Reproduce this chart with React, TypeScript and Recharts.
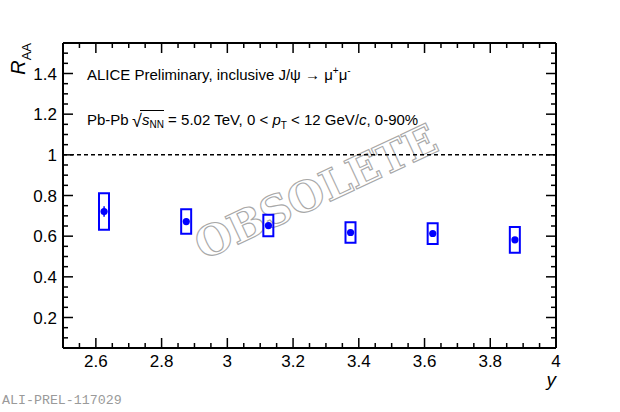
import React from 'react';
import { ComposedChart, Scatter, Bar, XAxis, YAxis, ErrorBar, ReferenceLine } from 'recharts';

// ---- data ----
const rapidity = [2.625, 2.875, 3.125, 3.375, 3.625, 3.875];
const raaValues = [0.721, 0.672, 0.652, 0.618, 0.613, 0.582];
const statErrors = [0.026, 0.014, 0.014, 0.012, 0.012, 0.013];
const sysErrors = [0.09, 0.06, 0.053, 0.05, 0.051, 0.063];

const xMajorTicks = [2.6, 2.8, 3, 3.2, 3.4, 3.6, 3.8, 4];
const xTickLabels = ['2.6', '2.8', '3', '3.2', '3.4', '3.6', '3.8', '4'];
const yMajorTicks = [0.2, 0.4, 0.6, 0.8, 1, 1.2, 1.4];
const yTickLabels = ['0.2', '0.4', '0.6', '0.8', '1', '1.2', '1.4'];
const xDomain = [2.5, 4];
const yDomain = [0.05, 1.55];
const minorStep = 0.05;

const buildMinor = (lo: number, hi: number) => {
  const out: number[] = [];
  const n = Math.round((hi - lo) / minorStep);
  for (let i = 0; i <= n; i++) out.push(Math.round((lo + i * minorStep) * 1000) / 1000);
  return out;
};
const xAllTicks = buildMinor(xDomain[0], xDomain[1]);
const yAllTicks = buildMinor(yDomain[0], yDomain[1]);

const rows = rapidity.map((x, i) => ({
  x,
  y: raaValues[i],
  stat: statErrors[i],
  sys: [raaValues[i] - sysErrors[i], raaValues[i] + sysErrors[i]],
}));

const FONT = '"Liberation Sans", Arial, Helvetica, sans-serif';
const MONO = '"Liberation Mono", "Courier New", monospace';
const BLUE = '#0000ff';
const MAJOR = 10;
const MINOR = 5;

const majorIndex = (v: number, majors: number[]) => majors.findIndex((m) => Math.abs(m - v) < 1e-6);

const XTickBottom = (props: any) => {
  const { x, y, payload } = props;
  const idx = majorIndex(payload.value, xMajorTicks);
  const len = idx >= 0 ? MAJOR : MINOR;
  return (
    <g>
      <line x1={x} x2={x} y1={y} y2={y - len} stroke="#000" strokeWidth={1.5} />
      {idx >= 0 && (
        <text x={x} y={y + 19} textAnchor="middle" fontSize={17} fontFamily={FONT} fill="#000">
          {xTickLabels[idx]}
        </text>
      )}
    </g>
  );
};

const XTickTop = (props: any) => {
  const { x, y, payload } = props;
  const idx = majorIndex(payload.value, xMajorTicks);
  const len = idx >= 0 ? MAJOR : MINOR;
  return <line x1={x} x2={x} y1={y} y2={y + len} stroke="#000" strokeWidth={1.5} />;
};

const YTickLeft = (props: any) => {
  const { x, y, payload } = props;
  const idx = majorIndex(payload.value, yMajorTicks);
  const len = idx >= 0 ? MAJOR : MINOR;
  return (
    <g>
      <line x1={x} x2={x + len} y1={y} y2={y} stroke="#000" strokeWidth={1.5} />
      {idx >= 0 && (
        <text x={x - 6} y={y + 6} textAnchor="end" fontSize={17} fontFamily={FONT} fill="#000">
          {yTickLabels[idx]}
        </text>
      )}
    </g>
  );
};

const YTickRight = (props: any) => {
  const { x, y, payload } = props;
  const idx = majorIndex(payload.value, yMajorTicks);
  const len = idx >= 0 ? MAJOR : MINOR;
  return <line x1={x} x2={x - len} y1={y} y2={y} stroke="#000" strokeWidth={1.5} />;
};

const Dot = (props: any) => <circle cx={props.cx} cy={props.cy} r={3.6} fill={BLUE} />;

const WATERMARK = 'OBSOLETE';

export default function App() {
  const W = 620;
  const H = 412;
  const axisLine = { stroke: '#000', strokeWidth: 2 };
  return (
    <div style={{ position: 'absolute', left: 0, top: 0, width: W, height: H, background: '#fff', fontFamily: FONT }}>
      {/* watermark drawn underneath the (transparent) chart */}
      <svg width={W} height={H} style={{ position: 'absolute', left: 0, top: 0 }}>
        <g transform="rotate(-25 316 192)">
          <text
            x={316}
            y={192}
            textAnchor="middle"
            dominantBaseline="central"
            fontFamily='"DejaVu Serif", "Liberation Serif", serif'
            fontWeight="bold"
            fontSize={42}
            textLength={262}
            lengthAdjust="spacing"
            fill="#ffffff"
            stroke="#a8a8a8"
            strokeWidth={1.1}
          >
            {WATERMARK}
          </text>
        </g>
      </svg>
      <div style={{ position: 'absolute', left: 0, top: 0 }}>
        <ComposedChart width={W} height={H} data={rows} margin={{ top: 0, right: 0, bottom: 0, left: 0 }}>
          <XAxis
            xAxisId="b"
            dataKey="x"
            type="number"
            domain={xDomain}
            ticks={xAllTicks}
            interval={0}
            allowDataOverflow
            height={64}
            tickSize={0}
            tickMargin={0}
            tickLine={false}
            axisLine={axisLine}
            tick={XTickBottom}
          />
          <XAxis
            xAxisId="t"
            orientation="top"
            dataKey="x"
            type="number"
            domain={xDomain}
            ticks={xAllTicks}
            interval={0}
            allowDataOverflow
            height={43}
            tickSize={0}
            tickMargin={0}
            tickLine={false}
            axisLine={axisLine}
            tick={XTickTop}
          />
          <YAxis
            yAxisId="l"
            type="number"
            domain={yDomain}
            ticks={yAllTicks}
            interval={0}
            allowDataOverflow
            width={63}
            tickSize={0}
            tickMargin={0}
            tickLine={false}
            axisLine={axisLine}
            tick={YTickLeft}
          />
          <YAxis
            yAxisId="r"
            orientation="right"
            type="number"
            domain={yDomain}
            ticks={yAllTicks}
            interval={0}
            allowDataOverflow
            width={64}
            tickSize={0}
            tickMargin={0}
            tickLine={false}
            axisLine={axisLine}
            tick={YTickRight}
          />
          <ReferenceLine xAxisId="b" yAxisId="l" y={1} stroke="#000" strokeWidth={1.5} strokeDasharray="4 3" />
          <Bar
            xAxisId="b"
            yAxisId="l"
            dataKey="sys"
            barSize={10}
            fill="none"
            stroke={BLUE}
            strokeWidth={2}
            isAnimationActive={false}
          />
          <Scatter xAxisId="b" yAxisId="l" dataKey="y" shape={Dot} isAnimationActive={false}>
            <ErrorBar dataKey="stat" direction="y" width={0} stroke={BLUE} strokeWidth={1.5} isAnimationActive={false} />
          </Scatter>
        </ComposedChart>
      </div>
      <svg
        width={W}
        height={H}
        style={{ position: 'absolute', left: 0, top: 0, pointerEvents: 'none' }}
      >
        {/* legend texts */}
        <text x={87} y={80} fontSize={15} fontFamily={FONT} fill="#000">
          ALICE Preliminary, inclusive J/ψ → μ
          <tspan fontSize={10} dy={-6}>+</tspan>
          <tspan dy={6}>μ</tspan>
          <tspan fontSize={10} dy={-6}>-</tspan>
        </text>
        <text x={87} y={125} fontSize={15} fontFamily={FONT} fill="#000">
          Pb-Pb
        </text>
        <text x={132} y={127} fontSize={18} fontFamily={FONT} fill="#000">
          √
        </text>
        <line x1={140} x2={164} y1={110.5} y2={110.5} stroke="#000" strokeWidth={1} />
        <text x={142} y={125} fontSize={15} fontFamily={FONT} fill="#000">
          <tspan fontStyle="italic">s</tspan>
          <tspan fontSize={10} dy={3}>NN</tspan>
          <tspan dy={-3}> = 5.02 TeV, 0 &lt; </tspan>
          <tspan fontStyle="italic">p</tspan>
          <tspan fontSize={10} dy={4}>T</tspan>
          <tspan dy={-4}> &lt; 12 GeV/</tspan>
          <tspan fontStyle="italic">c</tspan>
          <tspan>, 0-90%</tspan>
        </text>
        {/* axis titles */}
        <text transform="rotate(-90)" x={-43} y={25} textAnchor="end" fontSize={20} fontFamily={FONT} fill="#000">
          <tspan fontStyle="italic">R</tspan>
          <tspan fontSize={13} dy={6}>AA</tspan>
        </text>
        <text x={556} y={386} textAnchor="end" fontSize={19} fontStyle="italic" fontFamily={FONT} fill="#000">
          y
        </text>
        <text x={2} y={404} fontSize={13.3} fontFamily={MONO} fill="#9a9a9a">
          ALI-PREL-117029
        </text>
      </svg>
    </div>
  );
}
